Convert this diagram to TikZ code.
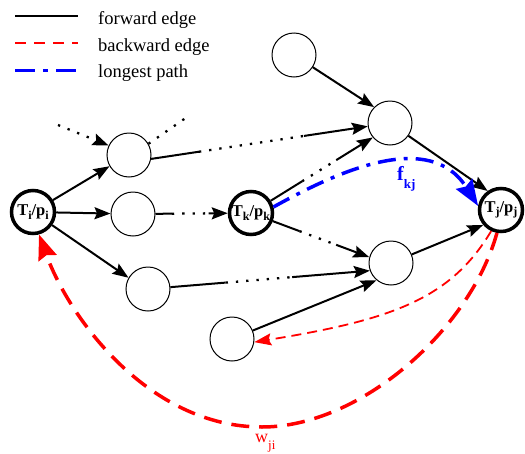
\documentclass[tikz,border=0pt]{standalone}
\usepackage{fontspec}
\setmainfont{Liberation Serif}
\usetikzlibrary{arrows.meta,calc}

% subscript used inside the bold task labels
\newcommand\tasksub[1]{\raisebox{-0.45ex}{\fontsize{12}{12}\selectfont #1}}
% an edge drawn solid, then dotted, then solid with an arrow
\newcommand\splitlink[4]{%
  \draw[fwd] (#1) -- ($(#1)!#3!(#2)$);
  \draw[dotted link] ($(#1)!#3!(#2)$) -- ($(#1)!#4!(#2)$);
  \draw[fwd,tipfwd] ($(#1)!#4!(#2)$) -- (#2);
}

\tikzset{
  task/.style={circle, draw, line width=1pt, minimum size=44pt, inner sep=0pt},
  keytask/.style={circle, draw, line width=3.5pt, minimum size=43pt, inner sep=0pt,
    font=\fontsize{16.5}{16.5}\selectfont\bfseries},
  fwd/.style={line width=2pt},
  tipfwd/.style={-{Stealth[length=16pt,width=12pt,inset=2.5pt]}},
  dotted link/.style={line width=2.3pt, dash pattern=on 2.3pt off 8pt},
  back/.style={red, line width=1.8pt, dash pattern=on 10pt off 6pt},
  backlong/.style={red, line width=3.5pt, dash pattern=on 18pt off 10pt},
  critical/.style={blue, line width=3.5pt, dash pattern=on 18pt off 8pt on 4pt off 8pt},
  legendtext/.style={anchor=west, inner sep=0pt, font=\fontsize{18.5}{18.5}\selectfont},
}

\begin{document}
\begin{tikzpicture}[x=1pt, y=-1pt]
\useasboundingbox (0,0) rectangle (525,453);

% legend
\coordinate (l1a) at (15,16);  \coordinate (l1b) at (78,16);
\coordinate (l2a) at (15,43);  \coordinate (l2b) at (78,43);
\coordinate (l3a) at (15,70);  \coordinate (l3b) at (78,70);
\draw[fwd] (l1a) -- (l1b);
\draw[red, line width=2pt, dash pattern=on 11pt off 8pt] (l2a) -- (l2b);
\draw[blue, line width=3pt, dash pattern=on 20pt off 8pt on 5pt off 8pt] (l3a) -- (l3b);
\node[legendtext] (t1) at (98,20) {forward edge};
\node[legendtext] (t2) at (98,47) {backward edge};
\node[legendtext] (t3) at (98,73) {longest path};

% tasks
\node[keytask] (Ti) at (33,212) {\makebox[0pt]{T\tasksub{i}/p\tasksub{i}}};
\node[keytask] (Tk) at (251,213) {\makebox[0pt]{T\tasksub{k}/p\tasksub{k}}};
\node[keytask] (Tj) at (501,210) {\makebox[0pt]{T\tasksub{j}/p\tasksub{j}}};
\node[task] (A) at (129,155) {};
\node[task] (B) at (133,214) {};
\node[task] (C) at (148,289) {};
\node[task] (D) at (294,55) {};
\node[task] (E) at (390,123) {};
\node[task] (F) at (391,263) {};
\node[task] (G) at (232,339) {};

% loose ends around A
\coordinate (inA) at (58,125);
\coordinate (outA) at (190,115);
\draw[dotted link, tipfwd] (inA) -- (A.155);
\draw[dotted link] (A.30) -- (outA);

% forward edges
\draw[fwd,tipfwd] (Ti) -- (A.210);
\draw[fwd,tipfwd] (Ti) -- (B);
\draw[fwd,tipfwd] (Ti) -- (C.150);
\splitlink{A.-10}{E}{0.2}{0.64}
\splitlink{B}{Tk}{0.33}{0.64}
\splitlink{Tk}{E.220}{0.42}{0.70}
\splitlink{Tk}{F.165}{0.41}{0.72}
\splitlink{C}{F.200}{0.35}{0.65}
\draw[fwd,tipfwd] (D) -- (E.135);
\draw[fwd,tipfwd] (E) -- (Tj.125);
\draw[fwd,tipfwd] (F) -- (Tj.220);
\draw[fwd,tipfwd] (G) -- (F.230);

% longest path
\draw[critical, -{Stealth[length=26pt,width=19pt,inset=3pt]}]
  (Tk.15) .. controls (340,170) and (430,130) .. (Tj.170);
\node[anchor=base west, inner sep=0pt, blue, font=\fontsize{20}{20}\selectfont\bfseries] (fkj) at (397,180)
  {f\raisebox{-8pt}{\fontsize{13}{13}\selectfont kj}};

% backward edges
\draw[back, -{Stealth[length=17pt,width=12pt,inset=2.5pt]}]
  (Tj.245) .. controls (450,300) and (390,320) .. (G.-8);
\draw[backlong, -{Stealth[length=25pt,width=19pt,inset=3pt]}]
  (Tj.260) .. controls (470,330) and (360,427) .. (262,427)
  .. controls (150,427) and (70,320) .. (Ti.285);
\node[anchor=base west, inner sep=0pt, red, font=\fontsize{18}{18}\selectfont] (wji) at (255,442)
  {w\raisebox{-7pt}{\fontsize{13}{13}\selectfont ji}};
\end{tikzpicture}
\end{document}
